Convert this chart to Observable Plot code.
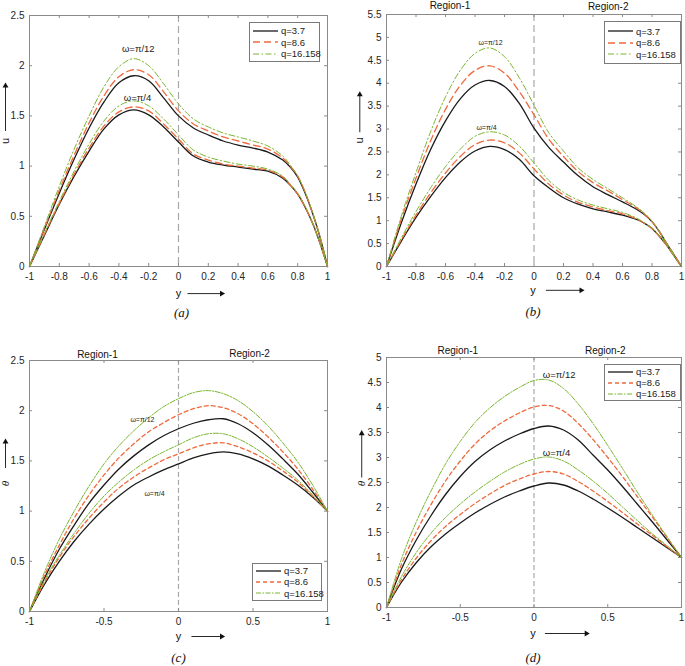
<!DOCTYPE html>
<html><head><meta charset="utf-8">
<script src="https://cdn.jsdelivr.net/npm/d3@7"></script>
<script src="https://cdn.jsdelivr.net/npm/@observablehq/plot@0.6"></script>
<style>
body{margin:0;background:#fff;}
#wrap{position:relative;width:685px;height:666px;overflow:hidden;font-family:"Liberation Sans",Arial,sans-serif;background:#fff;}
.panel{position:absolute;}
.legend{position:absolute;background:#fff;border:1px solid #7a7a7a;font-size:9.5px;color:#222;box-sizing:border-box;padding:1px 2px;display:flex;flex-direction:column;justify-content:center;}
.legend .row{display:flex;align-items:center;height:11.5px;white-space:nowrap;}
.legend svg{margin-right:2px;flex:none;}
</style></head><body><div id="wrap"></div><script>
// ---------- data ----------
const yPosU = [-1,-0.9,-0.8,-0.7,-0.6,-0.5,-0.4,-0.3,-0.2,-0.1,0,0.1,0.2,0.3,0.4,0.5,0.6,0.7,0.75,0.8,0.85,0.9,0.95,1];
const yPosT = [-1,-0.9,-0.8,-0.7,-0.6,-0.5,-0.4,-0.3,-0.2,-0.1,0,0.1,0.2,0.3,0.4,0.5,0.6,0.7,0.8,0.9,1];
const qLabels = ["q=3.7","q=8.6","q=16.158"];
const omegaLabels = ["ω=π/12","ω=π/4"];
const regionLabels = ["Region-1","Region-2"];
const captions = ["(a)","(b)","(c)","(d)"];

// (a) u
const aPi12Q37 = [0,0.37,0.73,1.07,1.38,1.64,1.83,1.90,1.85,1.68,1.50,1.38,1.31,1.25,1.21,1.18,1.14,1.06,0.99,0.89,0.73,0.53,0.29,0];
const aPi12Q86 = [0,0.38,0.76,1.11,1.43,1.70,1.89,1.96,1.91,1.74,1.55,1.42,1.35,1.29,1.25,1.21,1.17,1.08,1.00,0.90,0.74,0.53,0.29,0];
const aPi12Q16 = [0,0.40,0.80,1.17,1.50,1.79,1.99,2.07,2.00,1.82,1.62,1.47,1.39,1.33,1.29,1.25,1.20,1.10,1.01,0.90,0.74,0.54,0.30,0];
const aPi4Q37  = [0,0.31,0.62,0.90,1.15,1.37,1.51,1.56,1.51,1.39,1.24,1.10,1.04,1.01,0.99,0.97,0.95,0.88,0.81,0.72,0.59,0.43,0.23,0];
const aPi4Q86  = [0,0.32,0.63,0.92,1.18,1.40,1.54,1.59,1.55,1.42,1.27,1.12,1.06,1.02,1.00,0.98,0.96,0.89,0.81,0.72,0.59,0.43,0.23,0];
const aPi4Q16  = [0,0.33,0.65,0.95,1.22,1.45,1.60,1.65,1.60,1.47,1.31,1.16,1.09,1.05,1.02,1.00,0.97,0.90,0.82,0.73,0.60,0.43,0.23,0];

// (b) u
const bPi12Q37 = [0,0.95,1.80,2.56,3.18,3.66,3.96,4.06,3.93,3.56,3.02,2.60,2.28,1.98,1.74,1.57,1.41,1.24,1.13,0.98,0.76,0.50,0.25,0];
const bPi12Q86 = [0,1.03,1.93,2.75,3.43,3.95,4.28,4.38,4.22,3.82,3.31,2.78,2.40,2.07,1.83,1.65,1.46,1.27,1.14,0.98,0.76,0.50,0.25,0];
const bPi12Q16 = [0,1.10,2.05,2.95,3.70,4.28,4.65,4.77,4.58,4.12,3.52,2.92,2.52,2.15,1.90,1.70,1.50,1.29,1.16,0.99,0.77,0.51,0.25,0];
const bPi4Q37  = [0,0.55,1.07,1.53,1.94,2.28,2.52,2.62,2.55,2.34,1.98,1.72,1.50,1.36,1.26,1.19,1.12,1.02,0.94,0.83,0.66,0.46,0.23,0];
const bPi4Q86  = [0,0.58,1.12,1.61,2.04,2.40,2.66,2.76,2.70,2.48,2.13,1.80,1.56,1.40,1.30,1.22,1.15,1.03,0.94,0.83,0.66,0.46,0.23,0];
const bPi4Q16  = [0,0.62,1.20,1.72,2.18,2.56,2.84,2.94,2.87,2.63,2.26,1.88,1.62,1.45,1.34,1.26,1.18,1.05,0.95,0.84,0.67,0.46,0.23,0];

// (c) theta
const cPi12Q37 = [0,0.33,0.62,0.86,1.08,1.26,1.42,1.55,1.66,1.75,1.82,1.875,1.91,1.92,1.87,1.78,1.66,1.52,1.37,1.19,1.0];
const cPi12Q86 = [0,0.36,0.66,0.93,1.16,1.36,1.53,1.67,1.79,1.88,1.96,2.02,2.05,2.03,1.97,1.87,1.74,1.59,1.42,1.22,1.0];
const cPi12Q16 = [0,0.39,0.72,1.00,1.25,1.47,1.65,1.80,1.93,2.04,2.12,2.18,2.20,2.17,2.10,1.99,1.85,1.68,1.49,1.26,1.0];
const cPi4Q37  = [0,0.27,0.50,0.70,0.87,1.02,1.15,1.26,1.34,1.41,1.47,1.53,1.57,1.59,1.57,1.52,1.45,1.36,1.26,1.14,1.0];
const cPi4Q86  = [0,0.29,0.54,0.75,0.93,1.09,1.23,1.34,1.43,1.51,1.57,1.63,1.67,1.68,1.64,1.58,1.50,1.40,1.29,1.15,1.0];
const cPi4Q16  = [0,0.31,0.56,0.78,0.98,1.15,1.29,1.41,1.51,1.59,1.66,1.73,1.77,1.77,1.72,1.64,1.54,1.43,1.31,1.16,1.0];

// (d) theta
const dPi12Q37 = [0,0.76,1.34,1.83,2.26,2.62,2.92,3.15,3.33,3.47,3.58,3.63,3.55,3.35,3.05,2.75,2.42,2.07,1.72,1.36,1];
const dPi12Q86 = [0,0.85,1.50,2.05,2.53,2.93,3.27,3.53,3.73,3.89,4.01,4.04,3.93,3.68,3.36,3.00,2.62,2.22,1.82,1.41,1];
const dPi12Q16 = [0,0.96,1.70,2.32,2.87,3.32,3.70,3.99,4.22,4.40,4.54,4.55,4.38,4.07,3.68,3.24,2.78,2.31,1.86,1.42,1];
const dPi4Q37  = [0,0.50,0.89,1.21,1.47,1.69,1.89,2.06,2.21,2.33,2.43,2.49,2.45,2.33,2.17,1.99,1.80,1.60,1.40,1.20,1];
const dPi4Q86  = [0,0.55,0.98,1.33,1.62,1.86,2.08,2.27,2.44,2.57,2.67,2.72,2.67,2.52,2.33,2.12,1.90,1.67,1.45,1.22,1];
const dPi4Q16  = [0,0.61,1.09,1.48,1.80,2.07,2.31,2.52,2.71,2.86,2.97,3.01,2.93,2.75,2.53,2.28,2.01,1.74,1.48,1.24,1];

const xTicksFine = [-1,-0.8,-0.6,-0.4,-0.2,0,0.2,0.4,0.6,0.8,1];
const xTicksCoarse = [-1,-0.5,0,0.5,1];
const yTicksA = [0,0.5,1,1.5,2,2.5];
const yTicksB = [0,0.5,1,1.5,2,2.5,3,3.5,4,4.5,5,5.5];
const yTicksC = [0,0.5,1,1.5,2,2.5];
const yTicksD = [0,0.5,1,1.5,2,2.5,3,3.5,4,4.5,5];

// ---------- styles ----------
const qColors = ["#1a1a1a","#ee6a3c","#7ab52e"];
const qWidths = [1.3,1.3,1.0];
function dashFor(i, fine){
  if(i===0) return null;
  if(i===1) return fine ? "7,4" : "4,3";
  return fine ? "6,2.5,1.5,2.5" : "5,1.5,1.5,1.5";
}

function buildRows(grid, groups){
  const rows=[];
  groups.forEach((g,gi)=>g.forEach((vals,qi)=>vals.forEach((v,i)=>rows.push({y:grid[i],v,qi,key:gi+"-"+qi}))));
  return rows;
}

function makePanel(cfg){
  const innerW = cfg.width - cfg.ml - cfg.mr;
  const innerH = cfg.height - cfg.mt - cfg.mb;
  const rows = buildRows(cfg.grid, cfg.groups);
  const tickStroke = "#8a8a8a";
  const marks = [
    Plot.ruleX([0], {stroke:"#a8a8a8", strokeWidth:1.2, strokeDasharray: cfg.fine ? "7,4" : "5,3"}),
    ...[0,1,2].map(qi => Plot.line(rows.filter(r=>r.qi===qi), {x:"y", y:"v", z:"key", stroke:qColors[qi], strokeWidth:qWidths[qi], strokeDasharray:dashFor(qi,cfg.fine), curve:"catmull-rom"})),
    Plot.frame({stroke:"#8a8a8a"}),
    Plot.tickX(cfg.xTicks, {x:d=>d, stroke:tickStroke, insetTop: innerH-3}),
    Plot.tickX(cfg.xTicks, {x:d=>d, stroke:tickStroke, insetBottom: innerH-3}),
    Plot.tickY(cfg.yTicks, {y:d=>d, stroke:tickStroke, insetRight: innerW-3}),
    Plot.tickY(cfg.yTicks, {y:d=>d, stroke:tickStroke, insetLeft: innerW-3}),
    Plot.axisX({ticks:cfg.xTicks, tickSize:0, tickPadding:6, tickFormat:d=>String(d), fontSize:10, label:null}),
    Plot.axisY({ticks:cfg.yTicks, tickSize:0, tickPadding:5, tickFormat:d=>String(d), fontSize:10, label:null}),
    Plot.text(cfg.omega, {x:"x", y:"y", text:"t", fontSize:cfg.omegaSize, textAnchor:cfg.omegaAnchor, fill:"#222"}),
    Plot.text(cfg.regions, {x:"x", y:"y", text:"t", fontSize:10, fill:"#111"}),
    Plot.text([cfg.vLabel], {x:"x", y:"y", text:"t", rotate:-90, fontSize:11, fill:"#111", fontStyle: cfg.vItalic ? "italic" : "normal", fontFamily: cfg.vItalic ? "Liberation Serif, serif" : null}),
    Plot.text([cfg.hLabel], {x:"x", y:"y", text:"t", fontSize:11, fill:"#111"}),
    Plot.text([cfg.caption], {x:"x", y:"y", text:"t", fontSize:13, fontStyle:"italic", fontFamily:"Liberation Serif, serif", fill:"#111"}),
    Plot.link(cfg.arrows, {x1:"x1", y1:"y1", x2:"x2", y2:"y2", stroke:"#111", strokeWidth:0.9}),
    Plot.dot(cfg.arrows, {x:"x2", y:"y2", symbol:"triangle2", r:2.8, fill:"#111", stroke:null, rotate:"rot"})
  ];
  return Plot.plot({
    width: cfg.width, height: cfg.height,
    marginTop: cfg.mt, marginBottom: cfg.mb, marginLeft: cfg.ml, marginRight: cfg.mr,
    x:{domain:[-1,1]}, y:{domain:cfg.yDomain},
    style:{fontFamily:"Liberation Sans, Arial, sans-serif", fontSize:"10px", color:"#262626", background:"transparent", overflow:"visible"},
    marks
  });
}

const panels = [
  {left:0, top:0, width:342, height:325, ml:29, mr:15, mt:15, mb:59, yDomain:[0,2.5], fine:true, grid:yPosU,
   xTicks:xTicksFine, yTicks:yTicksA,
   groups:[[aPi12Q37,aPi12Q86,aPi12Q16],[aPi4Q37,aPi4Q86,aPi4Q16]],
   omega:[{x:-0.27,y:2.17,t:omegaLabels[0]},{x:-0.275,y:1.68,t:omegaLabels[1]}], omegaSize:9.5, omegaAnchor:"middle",
   regions:[],
   vLabel:{x:-1.161,y:1.25,t:"u"}, vItalic:false,
   hLabel:{x:0,y:-0.27,t:"y"},
   caption:{x:0.02,y:-0.46,t:captions[0]},
   arrows:[{x1:-1.161,y1:1.35,x2:-1.161,y2:1.80,rot:0},{x1:0.06,y1:-0.27,x2:0.29,y2:-0.27,rot:90}],
   legend:{left:249,top:22,width:71,height:40,fine:true}},
  {left:342, top:0, width:343, height:325, ml:44, mr:4, mt:14, mb:59, yDomain:[0,5.5], fine:true, grid:yPosU,
   xTicks:xTicksFine, yTicks:yTicksB,
   groups:[[bPi12Q37,bPi12Q86,bPi12Q16],[bPi4Q37,bPi4Q86,bPi4Q16]],
   omega:[{x:-0.295,y:4.89,t:omegaLabels[0]},{x:-0.322,y:3.03,t:omegaLabels[1]}], omegaSize:7, omegaAnchor:"middle",
   regions:[{x:-0.57,y:5.70,t:regionLabels[0]},{x:0.503,y:5.67,t:regionLabels[1]}],
   vLabel:{x:-1.181,y:2.75,t:"u"}, vItalic:false,
   hLabel:{x:-0.007,y:-0.52,t:"y"},
   caption:{x:-0.007,y:-1.0,t:captions[1]},
   arrows:[{x1:-1.181,y1:2.93,x2:-1.181,y2:3.75,rot:0},{x1:0.081,y1:-0.52,x2:0.32,y2:-0.52,rot:90}],
   legend:{left:604,top:21,width:77,height:43,fine:true}},
  {left:0, top:325, width:342, height:341, ml:29, mr:15, mt:35, mb:55, yDomain:[0,2.5], fine:false, grid:yPosT,
   xTicks:xTicksCoarse, yTicks:yTicksC,
   groups:[[cPi12Q37,cPi12Q86,cPi12Q16],[cPi4Q37,cPi4Q86,cPi4Q16]],
   omega:[{x:-0.242,y:1.91,t:omegaLabels[0]},{x:-0.161,y:1.175,t:omegaLabels[1]}], omegaSize:7, omegaAnchor:"middle",
   regions:[{x:-0.544,y:2.56,t:regionLabels[0]},{x:0.477,y:2.57,t:regionLabels[1]}],
   vLabel:{x:-1.161,y:1.275,t:"θ"}, vItalic:true,
   hLabel:{x:0,y:-0.249,t:"y"},
   caption:{x:0,y:-0.458,t:captions[2]},
   arrows:[{x1:-1.161,y1:1.43,x2:-1.161,y2:1.69,rot:0},{x1:0.087,y1:-0.249,x2:0.29,y2:-0.249,rot:90}],
   legend:{left:252,top:563,width:70,height:38,fine:false}},
  {left:342, top:325, width:343, height:341, ml:44, mr:4, mt:32, mb:59, yDomain:[0,5], fine:false, grid:yPosT,
   xTicks:xTicksCoarse, yTicks:yTicksD,
   groups:[[dPi12Q37,dPi12Q86,dPi12Q16],[dPi4Q37,dPi4Q86,dPi4Q16]],
   omega:[{x:0.06,y:4.66,t:omegaLabels[0]},{x:0.06,y:3.10,t:omegaLabels[1]}], omegaSize:9.5, omegaAnchor:"start",
   regions:[{x:-0.517,y:5.14,t:regionLabels[0]},{x:0.483,y:5.14,t:regionLabels[1]}],
   vLabel:{x:-1.168,y:2.48,t:"θ"}, vItalic:true,
   hLabel:{x:-0.007,y:-0.52,t:"y"},
   caption:{x:-0.007,y:-1.0,t:captions[3]},
   arrows:[{x1:-1.168,y1:2.60,x2:-1.168,y2:3.48,rot:0},{x1:0.074,y1:-0.52,x2:0.355,y2:-0.52,rot:90}],
   legend:{left:604,top:364,width:77,height:37,fine:false}}
];

const wrap = document.getElementById("wrap");
panels.forEach(cfg=>{
  const div = document.createElement("div");
  div.className="panel";
  div.style.left=cfg.left+"px"; div.style.top=cfg.top+"px";
  div.appendChild(makePanel(cfg));
  wrap.appendChild(div);
});
panels.forEach(cfg=>{
  const L = cfg.legend;
  const box = document.createElement("div");
  box.className="legend";
  Object.assign(box.style,{left:L.left+"px",top:L.top+"px",width:L.width+"px",height:L.height+"px"});
  qLabels.forEach((lab,qi)=>{
    const row=document.createElement("div"); row.className="row";
    const dash = dashFor(qi,L.fine);
    row.innerHTML = `<svg width="27" height="6"><line x1="1" y1="3" x2="26" y2="3" stroke="${qColors[qi]}" stroke-width="${qWidths[qi]}" ${dash?`stroke-dasharray="${dash}"`:""}/></svg><span>${lab}</span>`;
    box.appendChild(row);
  });
  wrap.appendChild(box);
});
</script></body></html>
